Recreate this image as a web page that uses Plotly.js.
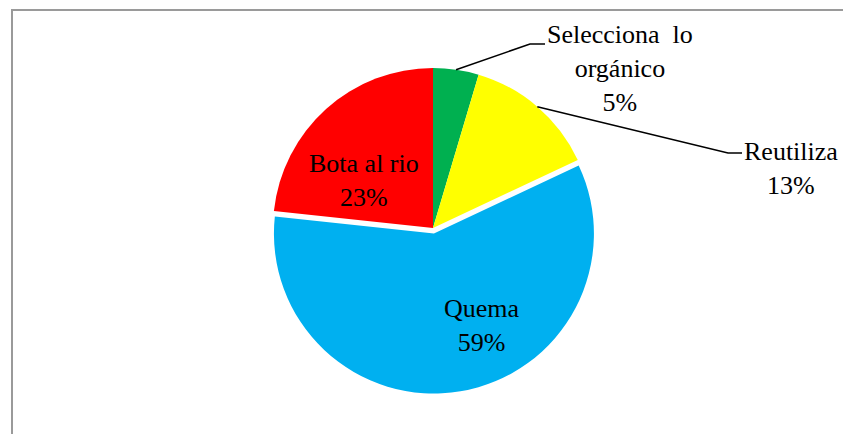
<!DOCTYPE html>
<html>
<head>
<meta charset="utf-8">
<script src="https://cdn.plot.ly/plotly-3.0.1.min.js"></script>
<style>html,body{margin:0;padding:0;background:#fff;}#chart{width:843px;height:434px;}</style>
</head>
<body>
<div id="chart"></div>
<script>
// Data
const categories = ["Selecciona  lo<br>orgánico", "Reutiliza", "Quema", "Bota al rio"];
const values = [4.6, 13.4, 58.7, 23.3];
const percentLabels = ["5%", "13%", "59%", "23%"];
const colors = ["#00B050", "#FFFF00", "#00B0F0", "#FF0000"];
const pulls = [0, 0, 0.035, 0];

const W = 843, H = 434;
const cx = 433, cy = 228, R = 160;
const maxPull = Math.max(...pulls);
const Rd = R * (1 + maxPull);
const px = x => x / W;
const py = y => (H - y) / H;

// label placement (pixel centres) and leader elbows
const labelPos = [
  {x: 620, y: 68, leader: [[530, 44], [545, 44]]},
  {x: 791, y: 168, leader: [[728, 153], [742, 153]]},
  {x: 482, y: 325, leader: null},
  {x: 364, y: 180, leader: null}
];

const FONT = 'Liberation Serif';

const total = values.reduce((a, b) => a + b, 0);
let cum = 0;
const annotations = [];
const shapes = [];
values.forEach((v, i) => {
  const mid = (cum + v / 2) / total * 2 * Math.PI;
  cum += v;
  const lp = labelPos[i];
  annotations.push({
    xref: 'paper', yref: 'paper', x: px(lp.x), y: py(lp.y),
    xanchor: 'center', yanchor: 'middle', showarrow: false,
    text: categories[i] + '<br>' + percentLabels[i],
    font: {family: FONT, size: 26, color: '#000'}
  });
  if (lp.leader) {
    const sx = cx + R * Math.sin(mid), sy = cy - R * Math.cos(mid);
    let d = 'M' + px(sx) + ',' + py(sy);
    lp.leader.forEach(p => { d += ' L' + px(p[0]) + ',' + py(p[1]); });
    shapes.push({type: 'path', xref: 'paper', yref: 'paper', path: d, line: {color: '#000', width: 1.5}});
  }
});

// chart frame
shapes.push({type: 'path', xref: 'paper', yref: 'paper',
  path: 'M' + px(12) + ',' + py(H + 5) + ' L' + px(12) + ',' + py(10) + ' L' + px(W + 5) + ',' + py(10),
  line: {color: '#9a9a9a', width: 2}});

const trace = {
  type: 'pie',
  labels: categories,
  values: values,
  sort: false,
  direction: 'clockwise',
  rotation: 0,
  pull: pulls,
  marker: {colors: colors, line: {color: '#ffffff', width: 0}},
  textinfo: 'none',
  hoverinfo: 'label+percent',
  showlegend: false,
  domain: {x: [px(cx - Rd), px(cx + Rd)], y: [py(cy + Rd), py(cy - Rd)]}
};

Plotly.newPlot('chart', [trace], {
  width: W, height: H,
  margin: {l: 0, r: 0, t: 0, b: 0},
  paper_bgcolor: '#fff',
  font: {family: FONT},
  showlegend: false,
  annotations: annotations,
  shapes: shapes
}, {displayModeBar: false, staticPlot: true});
</script>
</body>
</html>
